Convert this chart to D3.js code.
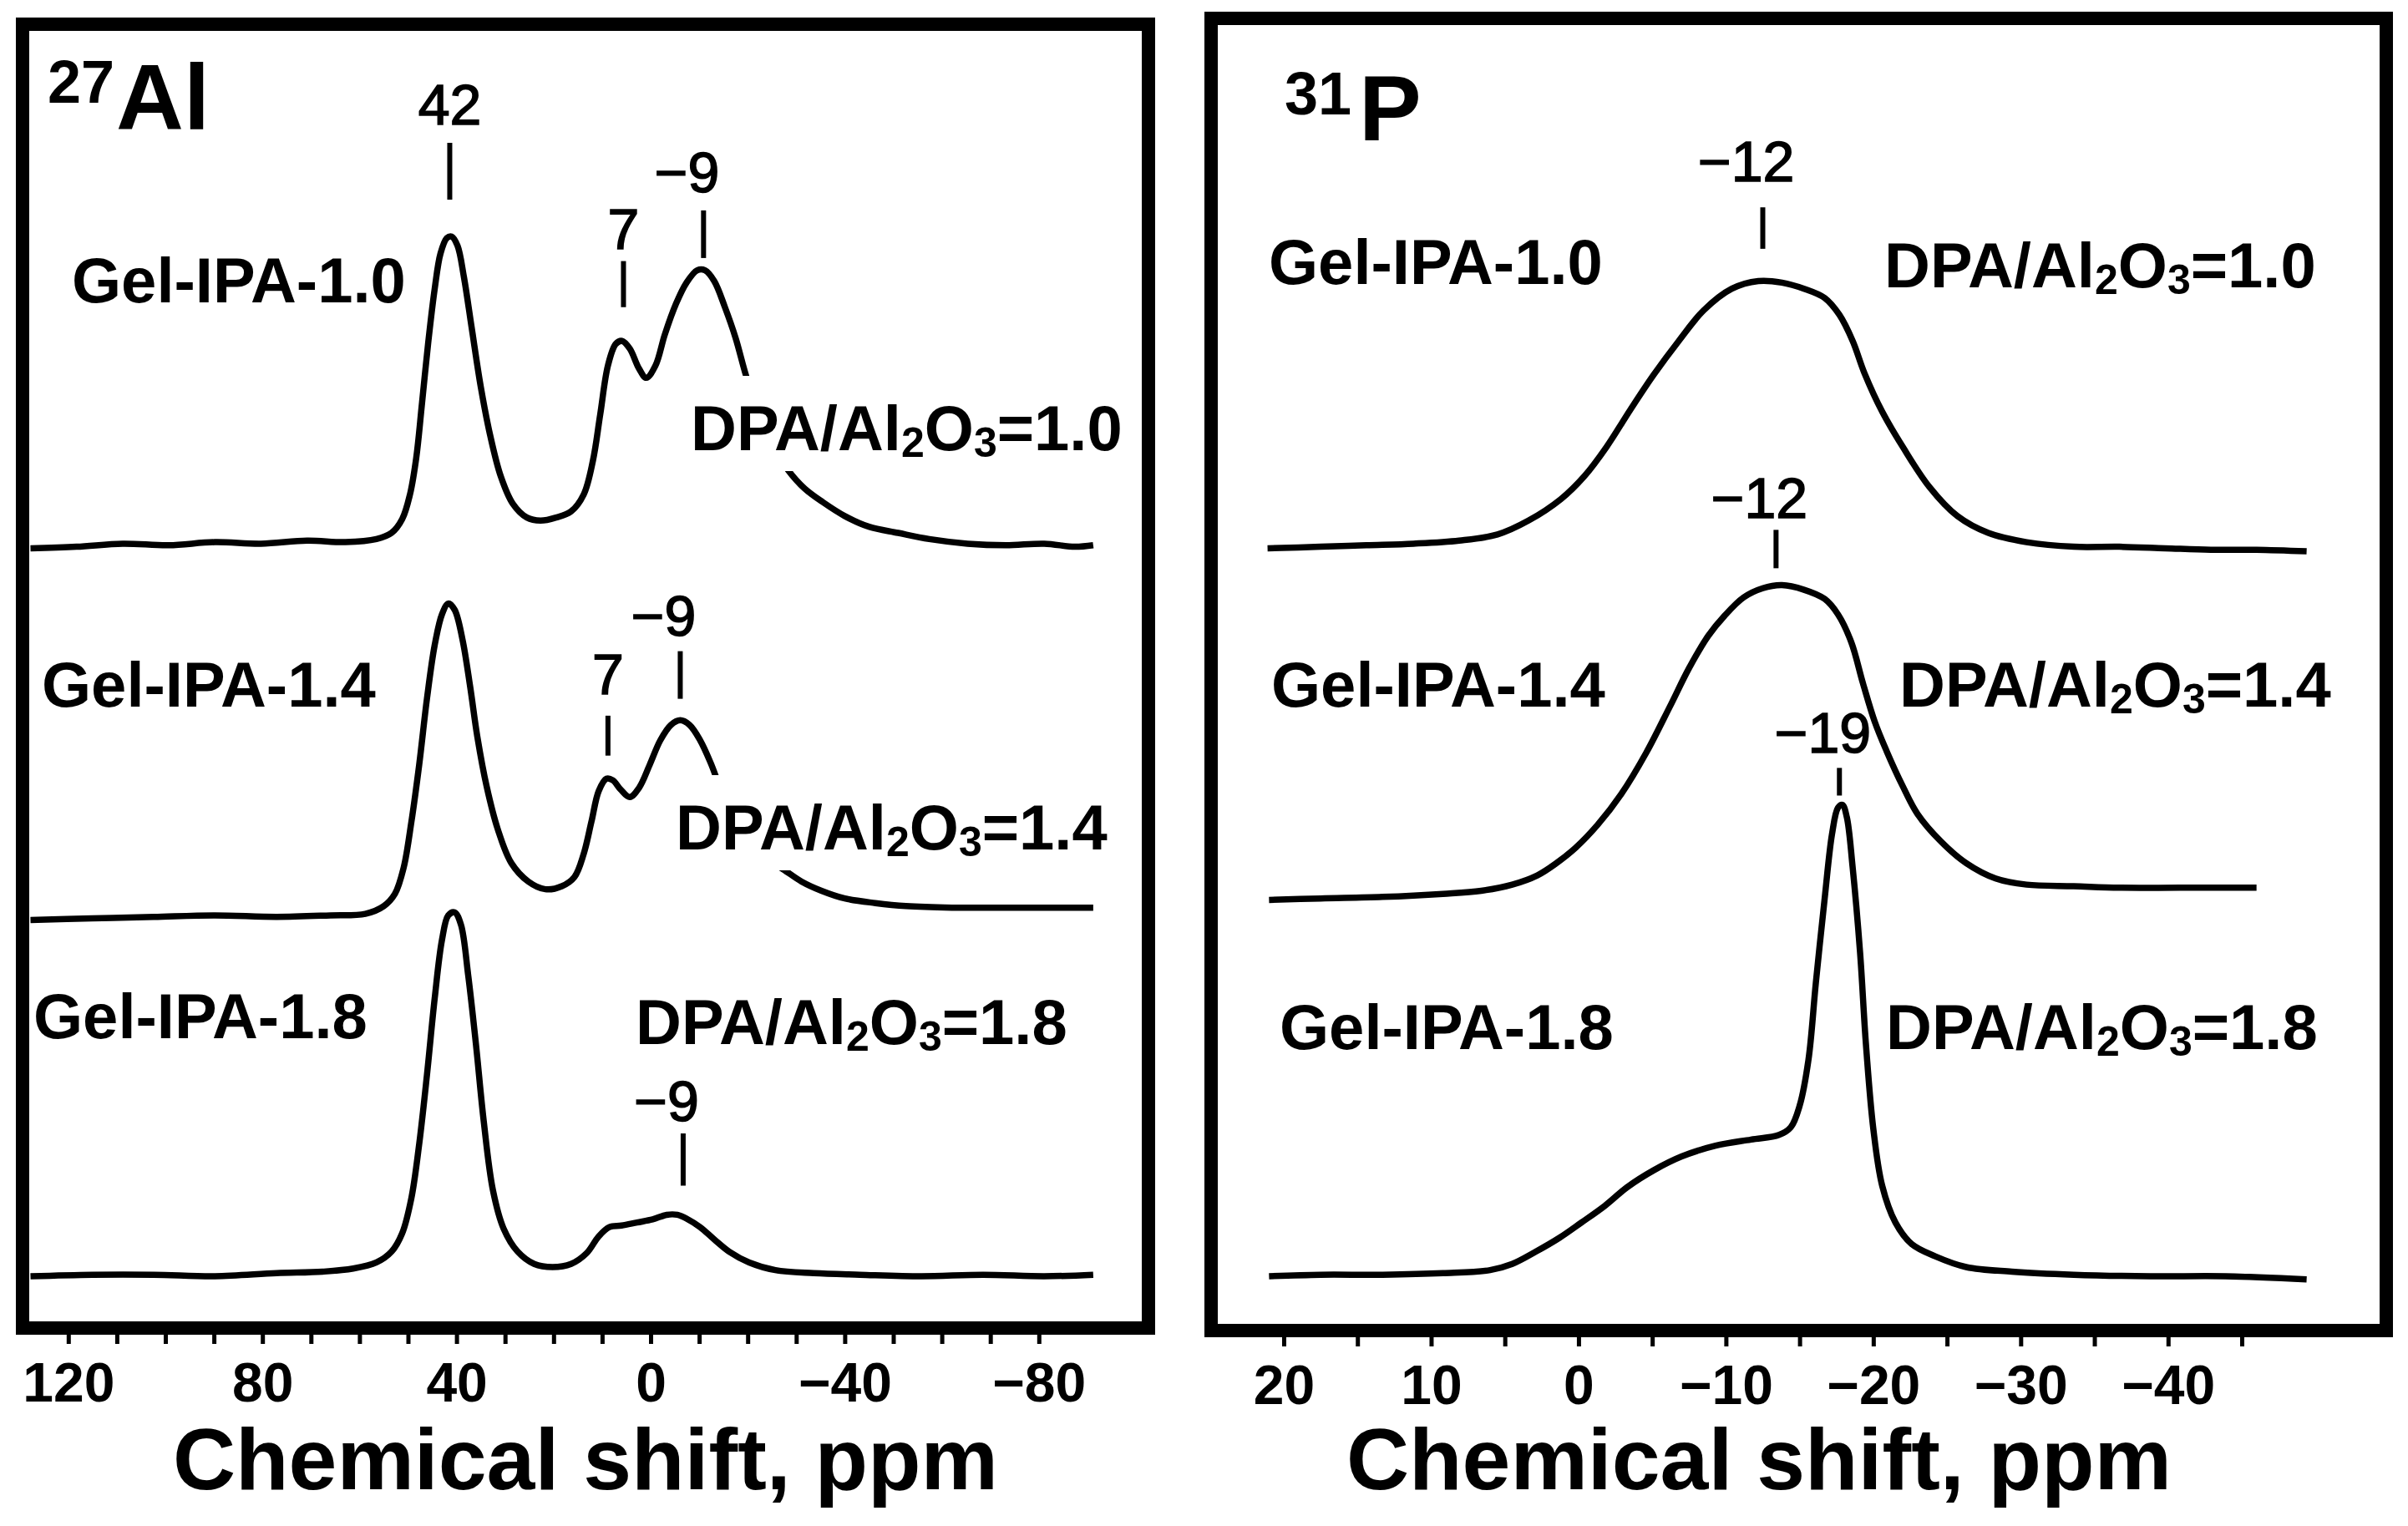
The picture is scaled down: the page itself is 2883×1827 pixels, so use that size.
<!DOCTYPE html>
<html lang="en">
<head>
<meta charset="utf-8">
<title>27Al and 31P NMR spectra</title>
<script src="https://cdn.jsdelivr.net/npm/d3@7"></script>
<style>
  body { margin: 0; background: #fff; }
  text { font-family: "Liberation Sans", Arial, sans-serif; fill: #000; }
</style>
</head>
<body>
<svg id="chart" width="2883" height="1827"></svg>
<script>
// ---- data: [chemical shift (ppm), intensity (a.u.)] ----
var al10 = [[127.8,-2],[118.3,-1],[108.8,1],[99.3,0],[89.8,2],[80.3,1],[70.8,3],[62.9,2],[56.5,4],[53.4,8],
  [51.2,17],[49.6,33],[48.3,57],[47.1,93],[45.8,133],[44.5,167],[43.3,190],[42.0,200],[41.0,201],[39.8,195],
  [38.5,175],[36.9,142],[35.0,103],[33.1,72],[30.9,45],[28.4,27],[25.5,18],[22.7,16],[19.5,18],[16.4,22],
  [13.8,33],[11.9,55],[10.4,85],[8.8,117],[7.2,131],[5.9,133],[4.3,128],[2.4,115],[0.9,109],[-1.0,117],
  [-2.9,137],[-5.2,157],[-7.4,171],[-9.6,179],[-11.2,179],[-13.1,172],[-15.3,155],[-17.5,135],[-19.7,110],
  [-22.2,87],[-25.1,65],[-28.3,49],[-31.7,37],[-35.5,28],[-40.0,19],[-45.0,12],[-51.0,8],[-57.4,4],[-65.3,1],
  [-73.2,0],[-81.1,1],[-87.4,-1],[-91.2,0]];
var al14 = [[127.8,-2],[115.1,-1],[102.4,0],[89.8,1],[77.1,0],[66.0,1],[58.8,2],[55.0,7],[52.7,15],[50.9,32],
  [49.3,62],[47.7,99],[46.1,142],[44.5,177],[43.0,197],[41.7,204],[40.4,200],[38.8,181],[37.2,150],[35.7,117],
  [33.8,85],[31.5,57],[28.7,35],[25.2,23],[21.7,18],[18.3,20],[15.7,26],[13.8,41],[12.2,62],[10.7,82],
  [9.1,90],[7.8,89],[6.2,83],[4.3,78],[2.4,84],[0.2,99],[-2.0,115],[-4.2,125],[-6.1,128],[-8.0,125],
  [-10.2,115],[-12.4,100],[-14.6,82],[-17.8,62],[-21.0,47],[-24.1,37],[-27.3,31],[-31.1,23],[-35.2,17],
  [-40.0,12],[-46.3,9],[-52.6,7],[-62.1,6],[-74.8,6],[-91.2,6]];
var al18 = [[127.8,0],[115.1,1],[102.4,1],[89.8,0],[77.1,2],[67.6,3],[61.3,5],[56.5,9],[53.4,16],[51.2,28],
  [49.3,51],[47.7,86],[46.1,131],[44.5,181],[43.0,219],[41.7,235],[40.4,237],[39.1,229],[37.6,196],[36.0,151],
  [34.4,101],[32.5,56],[30.3,31],[27.4,16],[24.0,8],[20.2,6],[16.4,8],[13.2,15],[10.7,26],[8.5,32],
  [6.0,33],[2.8,35],[-0.4,37],[-3.3,40],[-5.5,40],[-7.7,37],[-10.2,32],[-13.1,24],[-16.2,16],[-20.3,9],
  [-25.7,4],[-33.6,2],[-43.1,1],[-55.8,0],[-68.5,1],[-81.1,0],[-91.2,1]];

var p10 = [[21.1,0],[17.5,1],[14.4,2],[11.2,3],[8.1,5],[5.5,9],[3.4,18],[1.2,32],[-0.4,47],[-1.9,66],
  [-3.5,90],[-5.1,113],[-6.8,135],[-8.5,155],[-10.4,169],[-12.2,174],[-13.8,173],[-15.3,169],[-16.7,163],
  [-17.7,152],[-18.6,135],[-19.4,114],[-20.6,89],[-22.0,66],[-23.8,40],[-25.7,21],[-27.8,10],[-30.4,4],
  [-33.6,1],[-36.7,1],[-39.8,0],[-42.9,-1],[-46.0,-1],[-49.4,-2]];
var p14 = [[21.0,-4],[17.5,-3],[13.3,-2],[9.2,0],[6.6,2],[4.5,6],[2.8,12],[1.5,20],[0.2,30],[-1.3,45],
  [-2.9,65],[-4.6,92],[-6.2,122],[-7.5,147],[-8.8,168],[-9.9,181],[-11.2,193],[-12.5,199],[-13.8,201],
  [-15.3,198],[-16.7,192],[-17.6,182],[-18.5,164],[-19.3,137],[-20.1,112],[-20.9,93],[-22.0,70],[-23.0,52],
  [-24.6,34],[-26.3,20],[-28.3,10],[-30.4,6],[-33.6,5],[-36.7,4],[-40.8,4],[-46.0,4]];
var p18 = [[21.0,0],[17.5,1],[13.3,1],[9.2,2],[6.0,4],[4.5,8],[2.9,16],[1.3,25],[-0.2,35],[-1.8,46],
  [-3.3,58],[-5.1,69],[-7.0,78],[-9.3,85],[-11.7,89],[-13.6,92],[-14.4,97],[-15.0,111],[-15.6,141],
  [-16.1,191],[-16.7,246],[-17.2,288],[-17.6,305],[-17.9,307],[-18.2,299],[-18.6,266],[-19.1,211],
  [-19.5,151],[-20.0,96],[-20.6,59],[-21.5,35],[-22.6,21],[-24.2,13],[-26.3,6],[-29.4,3],[-33.6,1],
  [-38.8,0],[-43.9,0],[-49.4,-2]];

var sampleNames = ["Gel-IPA-1.0", "Gel-IPA-1.4", "Gel-IPA-1.8"];
var ratios = ["1.0", "1.4", "1.8"];
var alTicks = [120, 80, 40, 0, -40, -80];
var pTicks = [20, 10, 0, -10, -20, -30, -40];

// peak markers: text, ppm, marker top / bottom and label baseline (stacked a.u.)
var alPeaks = [
  {t: "42", ppm: 41.4, top: 738, bot: 701, lab: 750},
  {t: "7", ppm: 5.6, top: 661, bot: 631, lab: 669},
  {t: "\u22129", ppm: -10.9, top: 694, bot: 663, lab: 706},
  {t: "7", ppm: 8.8, top: 365, bot: 339, lab: 379},
  {t: "\u22129", ppm: -6.1, top: 407, bot: 376, lab: 417},
  {t: "\u22129", ppm: -6.7, top: 93, bot: 59, lab: 101}
];
var pPeaks = [
  {t: "\u221212", ppm: -12.5, top: 696, bot: 669, lab: 713},
  {t: "\u221212", ppm: -13.4, top: 486, bot: 461, lab: 494},
  {t: "\u221219", ppm: -17.7, top: 331, bot: 313, lab: 341}
];

// ---- layout ----
var svg = d3.select("#chart");
var y = d3.scaleLinear().domain([0, 831]).range([1528, 0]);

var panels = [
  {
    id: "al", frame: [27, 29, 1375, 1590],
    x: d3.scaleLinear().domain([120, -80]).range([81.8, 1243.8]),
    ticks: d3.range(120, -81, -10), labels: alTicks,
    series: [al10, al14, al18], offsets: [476, 234, 0],
    peaks: alPeaks, titleX: 701,
    nucleus: {mass: "27", sym: "Al", mx: 57, my: 123, sx: 139, sy: 155},
    names: [[86, 362], [50, 846], [40, 1243]],
    ratioPos: [[827, 539], [809, 1017], [761, 1250]]
  },
  {
    id: "p", frame: [1450, 22, 2857, 1593],
    x: d3.scaleLinear().domain([20, -45]).range([1537, 2684]),
    ticks: d3.range(20, -46, -5), labels: pTicks,
    series: [p10, p14, p18], offsets: [474, 249, 0],
    peaks: pPeaks, titleX: 2106,
    nucleus: {mass: "31", sym: "P", mx: 1538, my: 137, sx: 1627, sy: 168},
    names: [[1519, 340], [1522, 846], [1532, 1256]],
    ratioPos: [[2256, 344], [2274, 846], [2258, 1256]]
  }
];

var line = d3.line().curve(d3.curveCatmullRom.alpha(0.5));

panels.forEach(function(p) {
  var f = p.frame;
  var g = svg.append("g").attr("class", "panel-" + p.id);

  g.append("clipPath").attr("id", "clip-" + p.id)
    .append("rect")
    .attr("x", f[0] + 8).attr("y", f[1] + 8)
    .attr("width", f[2] - f[0] - 16).attr("height", f[3] - f[1] - 16);

  // x axis, ticks hanging below the frame
  var axis = d3.axisBottom(p.x)
    .tickValues(p.ticks)
    .tickSize(19)
    .tickPadding(22)
    .tickFormat(function(d) { return p.labels.indexOf(d) >= 0 ? d3.format("d")(d) : ""; });
  var ax = g.append("g").attr("transform", "translate(0," + f[3] + ")").call(axis);
  ax.select(".domain").remove();
  ax.selectAll(".tick line").attr("stroke", "#000").attr("stroke-width", 5);
  ax.selectAll(".tick text")
    .attr("font-size", 66).attr("font-weight", "bold")
    .attr("font-family", "Liberation Sans, Arial, sans-serif").attr("fill", "#000");

  // spectra
  var traces = g.append("g").attr("clip-path", "url(#clip-" + p.id + ")");
  p.series.forEach(function(s, i) {
    traces.append("path")
      .attr("d", line(s.map(function(d) { return [p.x(d[0]), y(d[1] + p.offsets[i])]; })))
      .attr("fill", "none").attr("stroke", "#000")
      .attr("stroke-width", 7.5).attr("stroke-linejoin", "round");
  });

  // frame
  g.append("rect")
    .attr("x", f[0]).attr("y", f[1])
    .attr("width", f[2] - f[0]).attr("height", f[3] - f[1])
    .attr("fill", "none").attr("stroke", "#000").attr("stroke-width", 16);

  // peak markers
  p.peaks.forEach(function(k) {
    var xm = p.x(k.ppm);
    g.append("line")
      .attr("x1", xm).attr("x2", xm).attr("y1", y(k.top)).attr("y2", y(k.bot))
      .attr("stroke", "#000").attr("stroke-width", 6);
    var digits = k.t.replace("\u2212", "").length;
    g.append("text")
      .attr("x", xm + digits * 0.278 * 68).attr("y", y(k.lab))
      .attr("text-anchor", "end").attr("font-size", 68)
      .attr("stroke", "#000").attr("stroke-width", 1.6)
      .text(k.t);
  });

  // sample names
  p.names.forEach(function(pos, i) {
    g.append("text").attr("x", pos[0]).attr("y", pos[1])
      .attr("font-size", 76).attr("font-weight", "bold")
      .text(sampleNames[i]);
  });

  // DPA/Al2O3 ratio labels, white box behind
  p.ratioPos.forEach(function(pos, i) {
    var lg = g.append("g");
    var box = lg.append("rect").attr("fill", "#fff");
    var t = lg.append("text").attr("x", pos[0]).attr("y", pos[1])
      .attr("font-size", 76).attr("font-weight", "bold");
    t.append("tspan").text("DPA/Al");
    t.append("tspan").attr("font-size", 50).attr("dy", 8).text("2");
    t.append("tspan").attr("dy", -8).text("O");
    t.append("tspan").attr("font-size", 50).attr("dy", 8).text("3");
    t.append("tspan").attr("dy", -8).text("=" + ratios[i]);
    var bb = t.node().getBBox();
    box.attr("x", bb.x - 8).attr("y", bb.y - 20)
      .attr("width", bb.width + 16).attr("height", bb.height + 26);
  });

  // nucleus label
  var n = p.nucleus;
  g.append("text").attr("x", n.mx).attr("y", n.my)
    .attr("font-size", 72).attr("font-weight", "bold").text(n.mass);
  g.append("text").attr("x", n.sx).attr("y", n.sy)
    .attr("font-size", 112).attr("font-weight", "bold").text(n.sym);

  // axis title
  g.append("text").attr("x", p.titleX).attr("y", 1783)
    .attr("text-anchor", "middle").attr("font-size", 104).attr("font-weight", "bold")
    .text("Chemical shift, ppm");
});
</script>
</body>
</html>
